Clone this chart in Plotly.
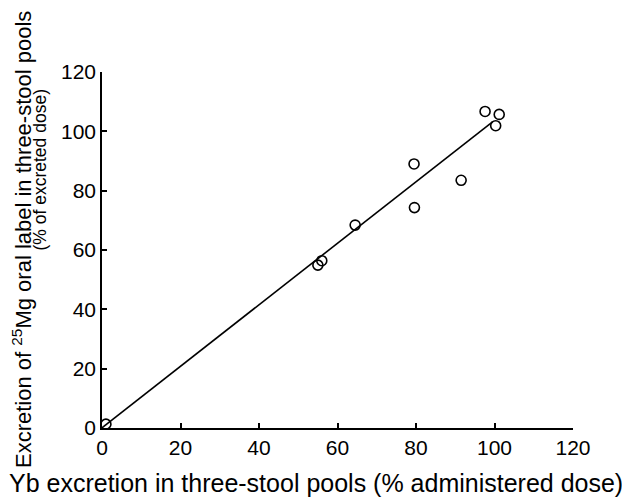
import plotly.graph_objects as go

# Data
yb_excretion = [1.0, 55.0, 56.0, 64.5, 79.5, 79.6, 91.5, 97.6, 100.3, 101.2]
mg_excretion = [1.3, 54.9, 56.4, 68.4, 89.0, 74.3, 83.5, 106.7, 101.9, 105.7]
fit_x = [0.3, 99.5]
fit_y = [0.4, 103.2]
tick_vals = [0, 20, 40, 60, 80, 100, 120]

# page has an 8px body margin, so the figure is 8px smaller than the window
W, H = 622, 493
L, R, T, B = 94, 57, 64, 73
pw, ph = W - L - R, H - T - B

def px(xf):
    return (xf - L) / pw

def py(yf):
    return (H - B - yf) / ph

fig = go.Figure()
fig.add_trace(go.Scatter(x=fit_x, y=fit_y, mode="lines",
                         line=dict(color="black", width=1.6),
                         showlegend=False, hoverinfo="skip"))
fig.add_trace(go.Scatter(x=yb_excretion, y=mg_excretion, mode="markers",
                         marker=dict(symbol="circle-open", size=10,
                                     color="black", line=dict(width=1.6)),
                         cliponaxis=False, showlegend=False))

font = "Liberation Sans, Arial, sans-serif"
axis_common = dict(range=[0, 120], tickvals=tick_vals, showgrid=False,
                   zeroline=False, showline=True, linecolor="black",
                   linewidth=1.5, ticks="inside", ticklen=5, tickwidth=1.5,
                   tickcolor="black", tickfont=dict(family=font, size=21,
                                                    color="black"))
fig.update_xaxes(**axis_common, ticklabelstandoff=0)
fig.update_yaxes(**axis_common, ticklabelstandoff=0)

fig.add_annotation(text="Yb excretion in three-stool pools (% administered dose)",
                   xref="paper", yref="paper", x=px(308), y=py(475),
                   xanchor="center", yanchor="middle", showarrow=False,
                   font=dict(family=font, size=25, color="black"))
fig.add_annotation(text="Excretion of <sup>25</sup>Mg oral label in three-stool pools",
                   xref="paper", yref="paper", x=px(14), y=py(232),
                   xanchor="center", yanchor="middle", showarrow=False,
                   textangle=-90,
                   font=dict(family=font, size=22, color="black"))
fig.add_annotation(text="(% of excreted dose)",
                   xref="paper", yref="paper", x=px(31), y=py(245),
                   xanchor="center", yanchor="bottom", showarrow=False,
                   textangle=-90,
                   font=dict(family=font, size=17.5, color="black"))

fig.update_layout(width=W, height=H, margin=dict(l=L, r=R, t=T, b=B),
                  paper_bgcolor="white", plot_bgcolor="white")

fig.write_html("out.html")
